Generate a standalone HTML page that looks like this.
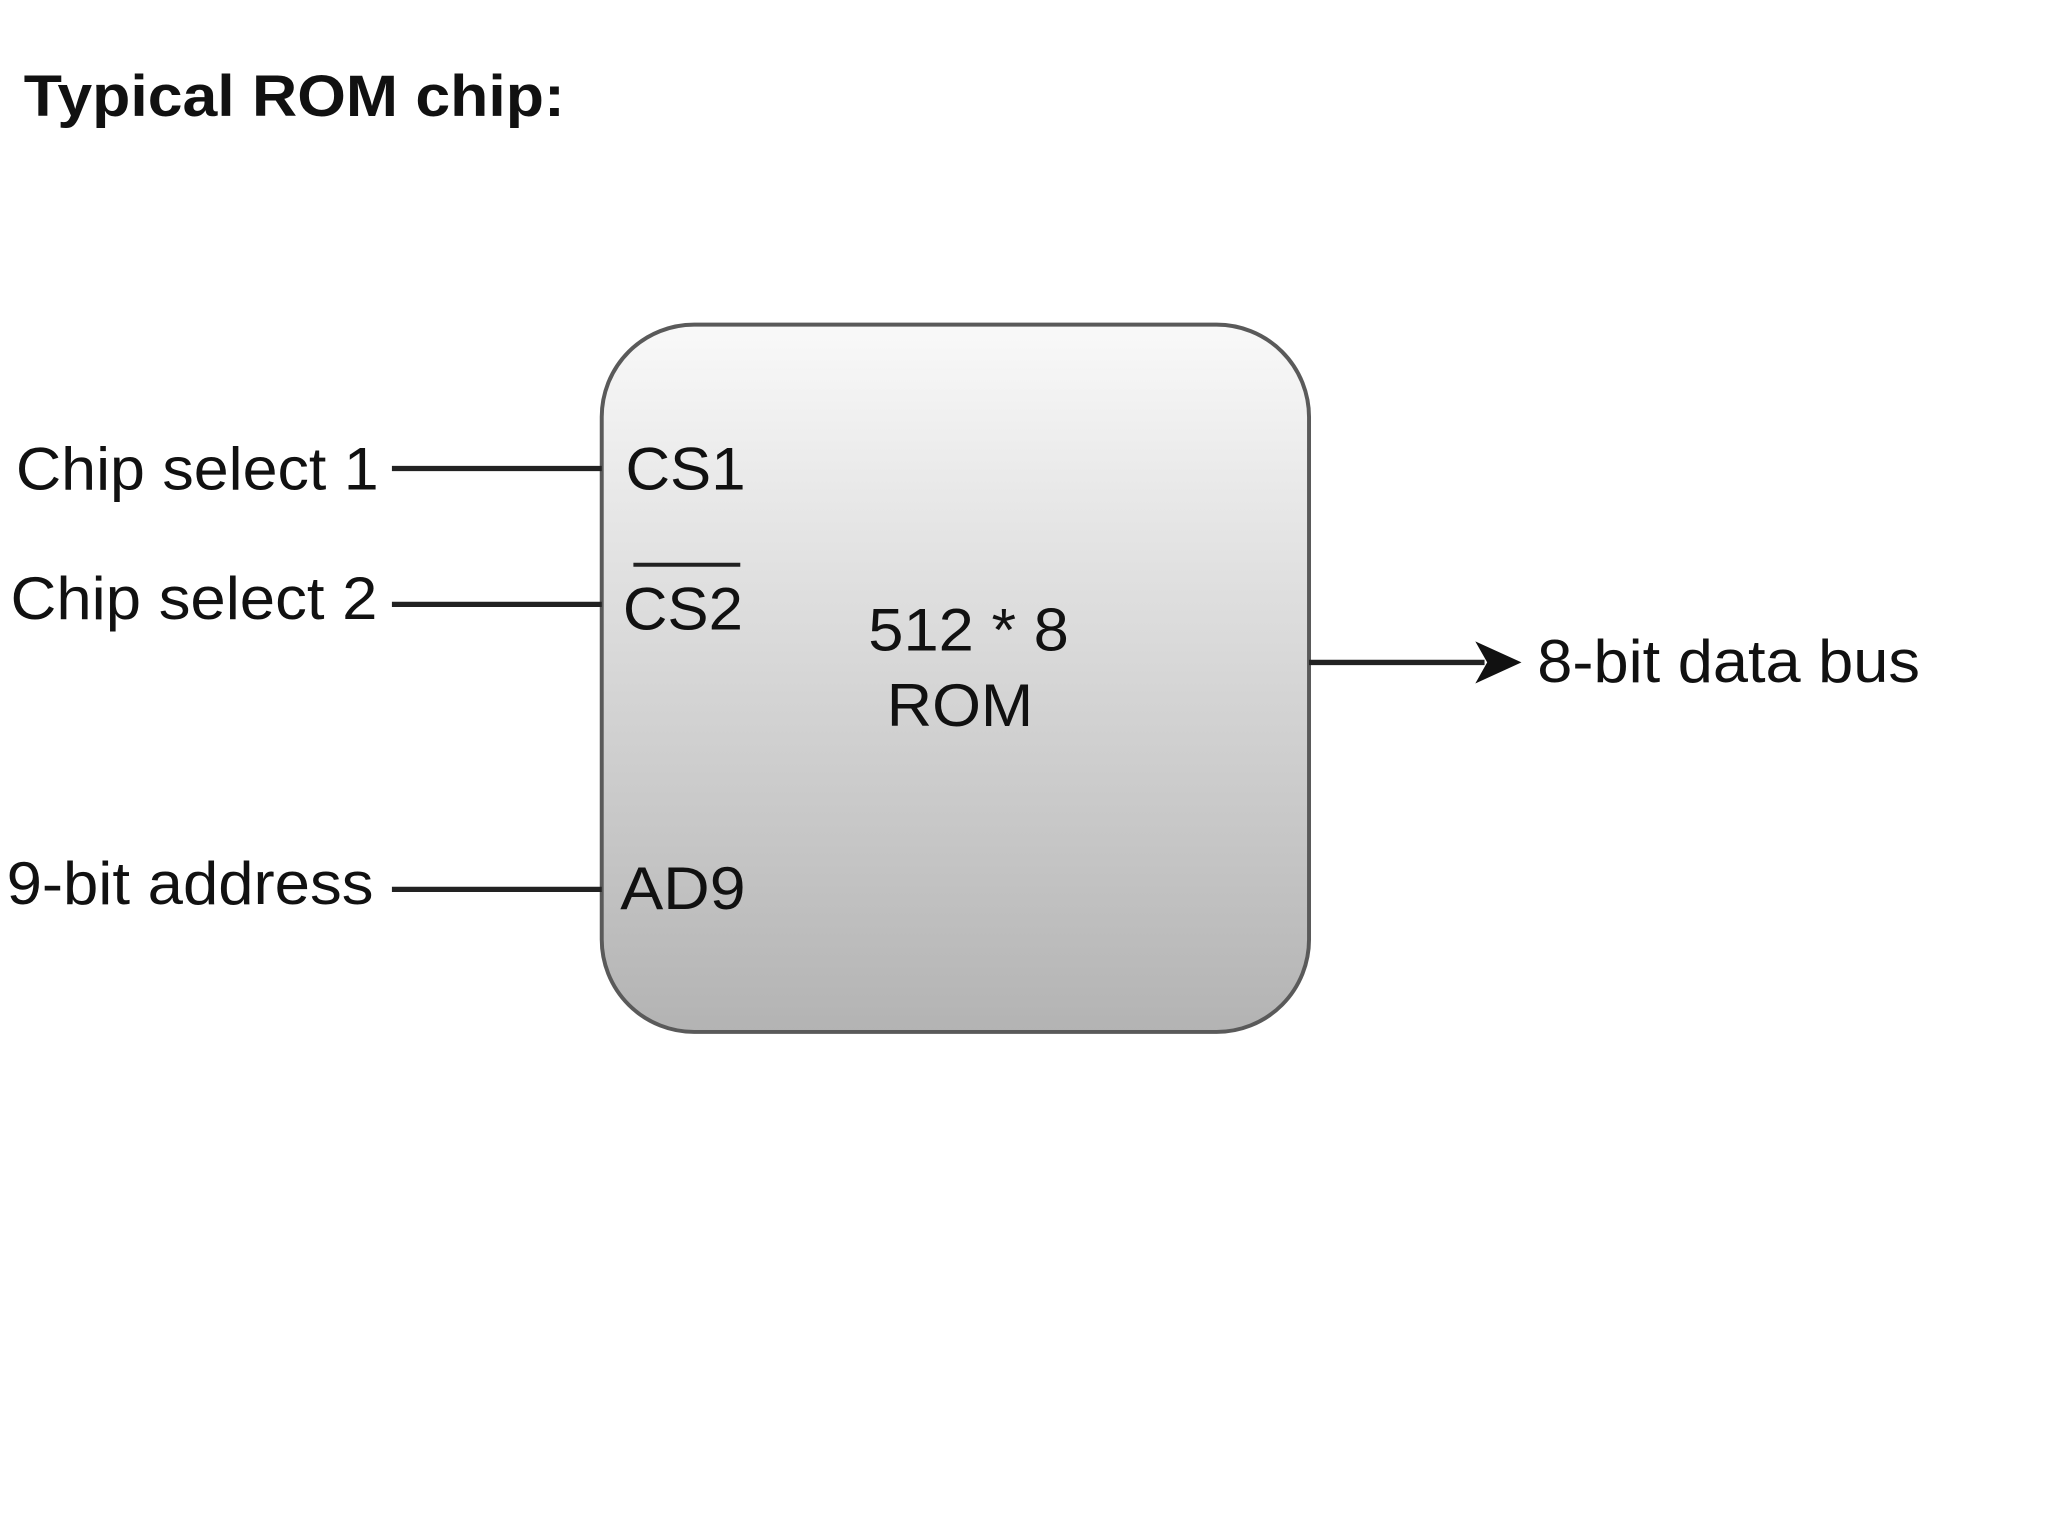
<!DOCTYPE html>
<html><head><meta charset="utf-8"><style>
html,body{margin:0;padding:0;background:#fff;}
svg{display:block;}
text{font-family:"Liberation Sans",Arial,sans-serif;fill:#111;}
</style></head><body>
<svg width="2048" height="1536" viewBox="0 0 1552 1164" preserveAspectRatio="none" xmlns="http://www.w3.org/2000/svg">
<defs>
<linearGradient id="g" x1="0" y1="0" x2="0" y2="1">
<stop offset="0" stop-color="#f9f9f9"/>
<stop offset="1" stop-color="#b3b3b3"/>
</linearGradient>
</defs>
<rect width="1552" height="1164" fill="#fff"/>
<text x="18" y="88" font-size="44" font-weight="bold" textLength="410" lengthAdjust="spacingAndGlyphs">Typical ROM chip:</text>
<rect x="456" y="246" width="536" height="536" rx="70" ry="70" fill="url(#g)" stroke="#5a5a5a" stroke-width="3"/>
<g stroke="#222" stroke-width="4">
<line x1="297" y1="355" x2="456" y2="355"/>
<line x1="297" y1="458" x2="456" y2="458"/>
<line x1="297" y1="674" x2="456" y2="674"/>
<line x1="992" y1="502" x2="1125" y2="502"/>
<line x1="480" y1="428" x2="561" y2="428" stroke-width="3"/>
</g>
<polygon points="1153,502 1118,486 1127,502 1118,518" fill="#111"/>
<g font-size="46">
<text x="12" y="371" textLength="275" lengthAdjust="spacingAndGlyphs">Chip select 1</text>
<text x="8" y="469" textLength="278" lengthAdjust="spacingAndGlyphs">Chip select 2</text>
<text x="5" y="685" textLength="278" lengthAdjust="spacingAndGlyphs">9-bit address</text>
<text x="474" y="371" textLength="91" lengthAdjust="spacingAndGlyphs">CS1</text>
<text x="472" y="477" textLength="91" lengthAdjust="spacingAndGlyphs">CS2</text>
<text x="470" y="689" textLength="95" lengthAdjust="spacingAndGlyphs">AD9</text>
<text x="658" y="493" textLength="152" lengthAdjust="spacingAndGlyphs">512 * 8</text>
<text x="672" y="550" textLength="111" lengthAdjust="spacingAndGlyphs">ROM</text>
<text x="1165" y="517" textLength="290" lengthAdjust="spacingAndGlyphs">8-bit data bus</text>
</g>
</svg>
</body></html>
